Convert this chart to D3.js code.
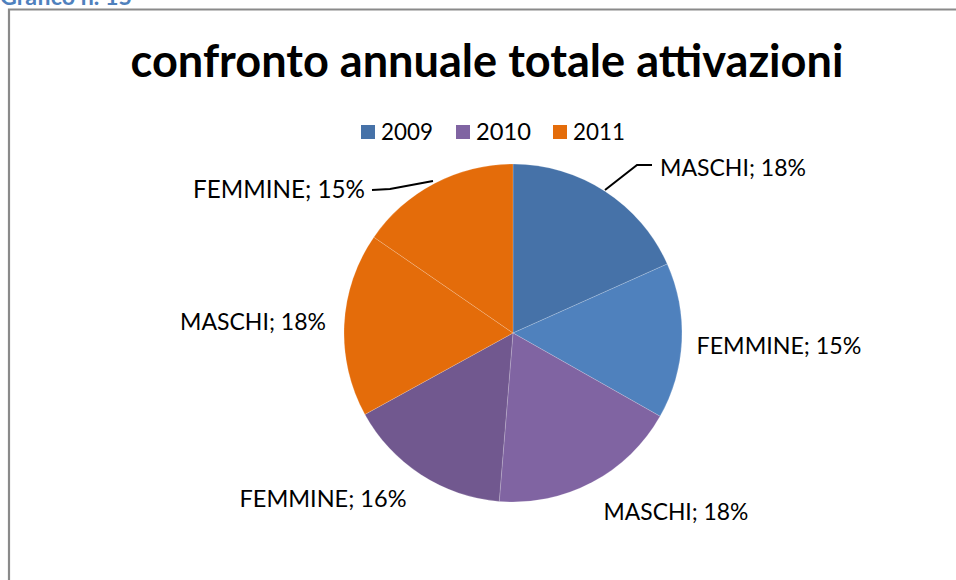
<!DOCTYPE html>
<html><head><meta charset="utf-8">
<script src="https://cdn.jsdelivr.net/npm/d3@7"></script>
<style>html,body{margin:0;padding:0;background:#fff;}svg{display:block;}</style>
</head><body>
<svg id="c" width="956" height="580"></svg>
<script>
const title = "confronto annuale totale attivazioni";
const caption = "Grafico n. 15";
const years = ["2009", "2010", "2011"];
const yearColors = ["#4672A8", "#8064A2", "#E46C0A"];
const sliceYears = ["2009", "2009", "2010", "2010", "2011", "2011"];
const sliceNames = ["MASCHI", "FEMMINE", "MASCHI", "FEMMINE", "MASCHI", "FEMMINE"];
const sliceValues = [18.3, 14.9, 18.1, 15.7, 17.6, 15.4];
const sliceLabels = ["18%", "15%", "18%", "16%", "18%", "15%"];
const sliceColors = ["#4672A8", "#4F81BD", "#8064A2", "#71588F", "#E46C0A", "#E46C0A"];

const svg = d3.select("#c");
const font = "Lato, 'Open Sans', sans-serif";

function fitText(sel, w) {
  const l = sel.node().getComputedTextLength();
  const fs = parseFloat(sel.attr("font-size"));
  sel.attr("font-size", fs * w / l);
}

// caption (cut at top edge as in the source)
const cap = svg.append("text").attr("x", 0).attr("y", 5).attr("font-family", font)
  .attr("font-weight", "bold").attr("font-size", 18).attr("fill", "#4F81BD").text(caption);
fitText(cap, 132);

// frame
svg.append("path").attr("d", "M9,580 V9.5 H956").attr("fill", "none")
  .attr("stroke", "#8a8a8a").attr("stroke-width", 2.2);

const t = svg.append("text").attr("x", 487).attr("y", 77).attr("text-anchor", "middle")
  .attr("font-family", font).attr("font-weight", "bold").attr("font-size", 42)
  .attr("fill", "#000").text(title);
fitText(t, 713);

// legend
const legX = [361, 456, 553];
const legW = [52, 55, 52];
years.forEach((y, i) => {
  svg.append("rect").attr("x", legX[i]).attr("y", 125).attr("width", 14).attr("height", 14)
    .attr("fill", yearColors[i]);
  const lt = svg.append("text").attr("x", legX[i] + 20).attr("y", 140)
    .attr("font-family", font).attr("font-size", 21).attr("fill", "#000").text(y);
  fitText(lt, legW[i]);
});

const cx = 513, cy = 333, r = 169;
const pie = d3.pie().sort(null).value(d => d)(sliceValues);
const arc = d3.arc().innerRadius(0).outerRadius(r);
const g = svg.append("g").attr("transform", `translate(${cx},${cy})`);
g.selectAll("path").data(pie).join("path")
  .attr("d", arc).attr("fill", (d, i) => sliceColors[i])
  .attr("stroke", "rgba(255,255,255,0.3)").attr("stroke-width", 0.6);

// labels
const labelPos = [
  {x: 733, y: 176, w: 146, line: [[605, 190], [637, 165], [652, 165]]},
  {x: 779, y: 354, w: 165},
  {x: 676, y: 520, w: 145},
  {x: 323, y: 507, w: 167},
  {x: 253, y: 330, w: 146},
  {x: 279, y: 198, w: 172, line: [[372, 190], [390, 189], [433, 181]]}
];
pie.forEach((d, i) => {
  const p = labelPos[i];
  const lt = svg.append("text").attr("x", p.x).attr("y", p.y).attr("text-anchor", "middle")
    .attr("font-family", font).attr("font-size", 19).attr("fill", "#000")
    .text(sliceNames[i] + "; " + sliceLabels[i]);
  fitText(lt, p.w);
  if (p.line) {
    svg.append("path").attr("d", d3.line()(p.line)).attr("fill", "none")
      .attr("stroke", "#000").attr("stroke-width", 2);
  }
});
</script>
</body></html>
